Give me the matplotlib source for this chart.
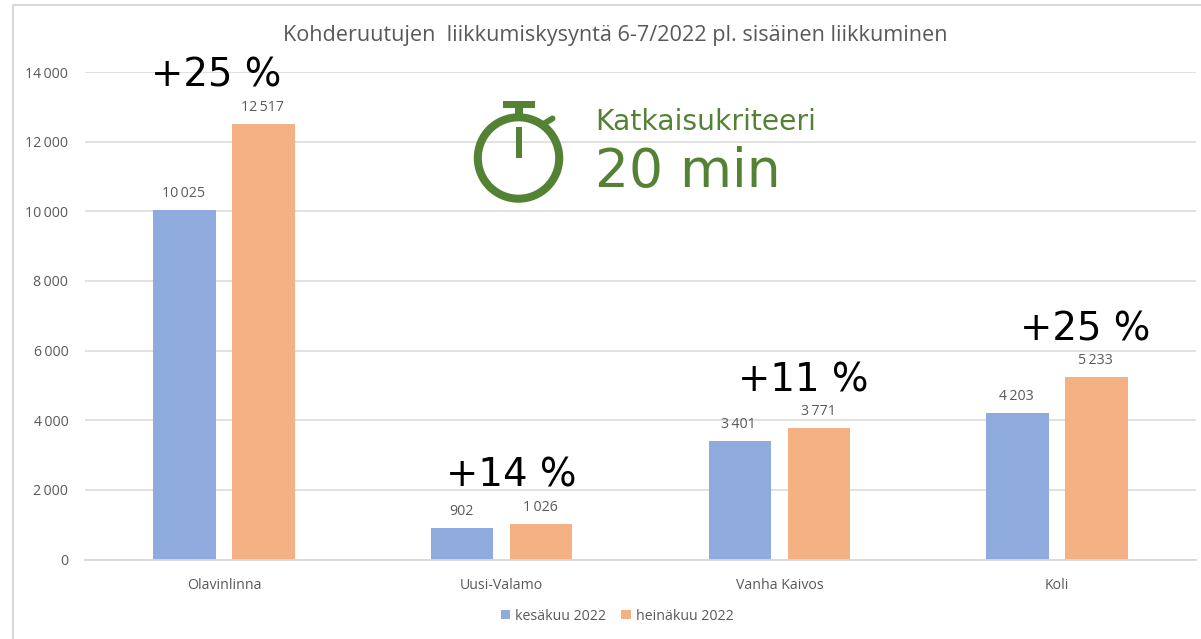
import numpy as np
import matplotlib
matplotlib.use("Agg")
import matplotlib.pyplot as plt
from matplotlib.patches import Circle, Rectangle

categories = ["Olavinlinna", "Uusi-Valamo", "Vanha Kaivos", "Koli"]
kesakuu = [10025, 902, 3401, 4203]
heinakuu = [12517, 1026, 3771, 5233]
muutos = ["+25 %", "+14 %", "+11 %", "+25 %"]
yticks = [0, 2000, 4000, 6000, 8000, 10000, 12000, 14000]

W, H = 1201, 639
BLUE = "#8faadc"
ORANGE = "#f4b183"
GREEN = "#548235"
GREY = "#595959"
GRID = "#d9d9d9"

# the percent labels were placed by hand in the original
muutos_dx = [-8, 10, 24, 28]


def fmt(v):
    # thin space as thousands separator, like the original
    return f"{v:,}".replace(",", "\u2009")


plt.rcParams["font.family"] = ["Open Sans", "DejaVu Sans"]
fig = plt.figure(figsize=(W / 100, H / 100), dpi=100)

# pixel coordinate layer behind and on top of the chart
bg = fig.add_axes([0, 0, 1, 1], zorder=0)
bg.set_xlim(0, W)
bg.set_ylim(H, 0)
bg.axis("off")
bg.plot([13, 13, W], [H, 5, 5], color=GRID, lw=1.5)

left, right, top, bottom = 85, 1196, 72, 559.5
ax = fig.add_axes([left / W, 1 - bottom / H, (right - left) / W, (bottom - top) / H], zorder=1)
ax.patch.set_alpha(0)

x = np.arange(len(categories))
bw = 0.225
off = 0.1425
ax.bar(x - off, kesakuu, bw, color=BLUE, label="kesäkuu 2022", zorder=2)
ax.bar(x + off, heinakuu, bw, color=ORANGE, label="heinäkuu 2022", zorder=2)

for i in x:
    ax.annotate(fmt(kesakuu[i]), (i - off, kesakuu[i]), xytext=(-1, 9), textcoords="offset pixels",
                ha="center", va="bottom", fontsize=10.2, color=GREY)
    ax.annotate(fmt(heinakuu[i]), (i + off, heinakuu[i]), xytext=(-1, 9), textcoords="offset pixels",
                ha="center", va="bottom", fontsize=10.2, color=GREY)
    ax.annotate(muutos[i], (i, max(kesakuu[i], heinakuu[i])), xytext=(muutos_dx[i], 29), textcoords="offset pixels",
                ha="center", va="bottom", fontsize=27.8, color="black",
                family="DejaVu Sans", zorder=5)

ax.set_xlim(-0.5, 3.5)
ax.set_ylim(0, 14000)
ax.set_xticks(x, categories)
ax.set_yticks(yticks, [fmt(v) for v in yticks])
ax.tick_params(axis="both", length=0, labelsize=10.2, labelcolor=GREY)
ax.tick_params(axis="x", pad=13.5)
ax.tick_params(axis="y", pad=12)
ax.grid(axis="y", color=GRID, lw=1.1, zorder=0)
ax.set_axisbelow(True)
for s in ["top", "right", "left"]:
    ax.spines[s].set_visible(False)
ax.spines["bottom"].set_color(GRID)
ax.spines["bottom"].set_linewidth(1.3)

ax.legend(loc="center", bbox_to_anchor=(617 / W, 1 - 616 / H), bbox_transform=fig.transFigure,
          ncol=2, frameon=False, fontsize=10.2, labelcolor=GREY, handlelength=0.65, handleheight=0.65,
          handletextpad=0.35, columnspacing=1.1)

fg = fig.add_axes([0, 0, 1, 1], zorder=3)
fg.set_xlim(0, W)
fg.set_ylim(H, 0)
fg.axis("off")
fg.text(615, 36, "Kohderuutujen  liikkumiskysyntä 6-7/2022 pl. sisäinen liikkuminen",
        ha="center", va="center", fontsize=15.6, color=GREY)

# stopwatch icon
fg.add_patch(Circle((518.5, 158), 40.7, fill=False, ec=GREEN, lw=5.8))
fg.add_patch(Rectangle((503, 100.7), 32, 7.5, fc=GREEN, ec="none"))
fg.add_patch(Rectangle((515, 108), 7.5, 8, fc=GREEN, ec="none"))
fg.add_patch(Rectangle((516.3, 127), 5.5, 31, fc=GREEN, ec="none"))
fg.plot([545, 552.5], [123, 118.5], color=GREEN, lw=4.3, solid_capstyle="round")

fg.text(595, 121.5, "Katkaisukriteeri", ha="left", va="center", fontsize=20.3, color=GREEN, family="DejaVu Sans")
fg.text(595, 172, "20 min", ha="left", va="center", fontsize=38.5, color=GREEN, family="DejaVu Sans")

fig.savefig("out.png", dpi=100)
